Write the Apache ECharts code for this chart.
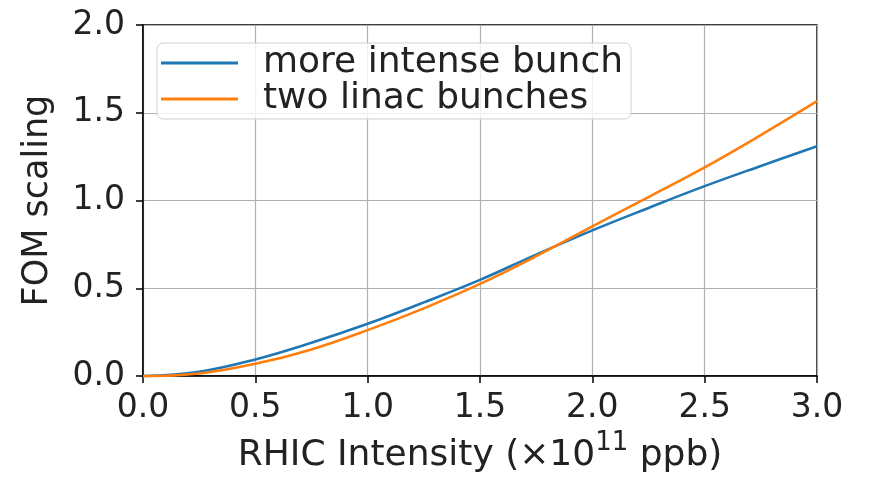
<!DOCTYPE html>
<html>
<head>
<meta charset="utf-8">
<script src="https://cdn.jsdelivr.net/npm/echarts@6/dist/echarts.min.js"></script>
<style>
  html, body { margin: 0; padding: 0; background: #fff; }
  #chart { width: 869px; height: 479px; }
</style>
</head>
<body>
<div id="chart"></div>
<script>
// RHIC intensity (x10^11 ppb)
const intensity = [0, 0.25, 0.5, 0.75, 1.0, 1.25, 1.5, 1.75, 2.0, 2.25, 2.5, 2.75, 3.0];
// FOM scaling
const moreIntense = [0, 0.025, 0.095, 0.19, 0.298, 0.42, 0.548, 0.692, 0.83, 0.958, 1.082, 1.197, 1.309];
const twoLinac = [0, 0.015, 0.07, 0.152, 0.262, 0.386, 0.525, 0.683, 0.853, 1.02, 1.189, 1.373, 1.566];
const seriesNames = ['more intense bunch', 'two linac bunches'];

const font = 'DejaVu Sans';
const pairs = (ys) => intensity.map((x, i) => [x, ys[i]]);

const chart = echarts.init(document.getElementById('chart'));

const axisCommon = {
    axisLine: { show: true, onZero: false, lineStyle: { color: '#000', width: 1.5 } },
    axisTick: { show: true, inside: false, length: 7, lineStyle: { color: '#000', width: 1.5 } },
    splitLine: { show: true, lineStyle: { color: '#b0b0b0', width: 1.2 } },
    axisLabel: { color: '#222', fontFamily: font, fontSize: 33 }
};

chart.setOption({
    animation: false,
    color: ['#1f77b4', '#ff7f0e'],
    grid: {
        left: 143, right: 52, top: 25, bottom: 101,
        show: true, borderColor: '#000', borderWidth: 1.5
    },
    legend: {
        orient: 'vertical',
        left: 157, top: 43,
        data: seriesNames,
        icon: 'rect',
        itemWidth: 77, itemHeight: 3,
        itemGap: 0,
        padding: [2, 8, 2, 4],
        backgroundColor: 'rgba(255,255,255,0.8)',
        borderColor: '#d0d0d0', borderWidth: 1, borderRadius: 6,
        textStyle: { fontFamily: font, fontSize: 36, color: '#222', lineHeight: 32, padding: [0, 0, 0, 20] }
    },
    xAxis: Object.assign({}, axisCommon, {
        type: 'value', min: 0, max: 3, interval: 0.5,
        name: '{t|RHIC Intensity (×10}{sup|11}{t| ppb)}',
        nameLocation: 'middle', nameGap: 46,
        nameTextStyle: {
            color: '#222', fontFamily: font, fontSize: 36,
            rich: {
                t: { fontFamily: font, fontSize: 36, color: '#222', lineHeight: 44, verticalAlign: 'bottom' },
                sup: { fontFamily: font, fontSize: 26, color: '#222', lineHeight: 26, verticalAlign: 'bottom', padding: [0, 0, 18, 0] }
            }
        },
        axisLabel: Object.assign({}, axisCommon.axisLabel, { margin: 16, formatter: (v) => v.toFixed(1) })
    }),
    yAxis: Object.assign({}, axisCommon, {
        type: 'value', min: 0, max: 2, interval: 0.5,
        name: 'FOM scaling',
        nameLocation: 'middle', nameGap: 88, nameRotate: 90,
        nameTextStyle: { color: '#222', fontFamily: font, fontSize: 35 },
        axisLabel: Object.assign({}, axisCommon.axisLabel, { margin: 18, formatter: (v) => v.toFixed(1) })
    }),
    series: [
        { name: seriesNames[0], type: 'line', data: pairs(moreIntense), smooth: 0.4, symbol: 'none', lineStyle: { width: 2.6 } },
        { name: seriesNames[1], type: 'line', data: pairs(twoLinac), smooth: 0.4, symbol: 'none', lineStyle: { width: 2.6 } }
    ]
});
</script>
</body>
</html>
